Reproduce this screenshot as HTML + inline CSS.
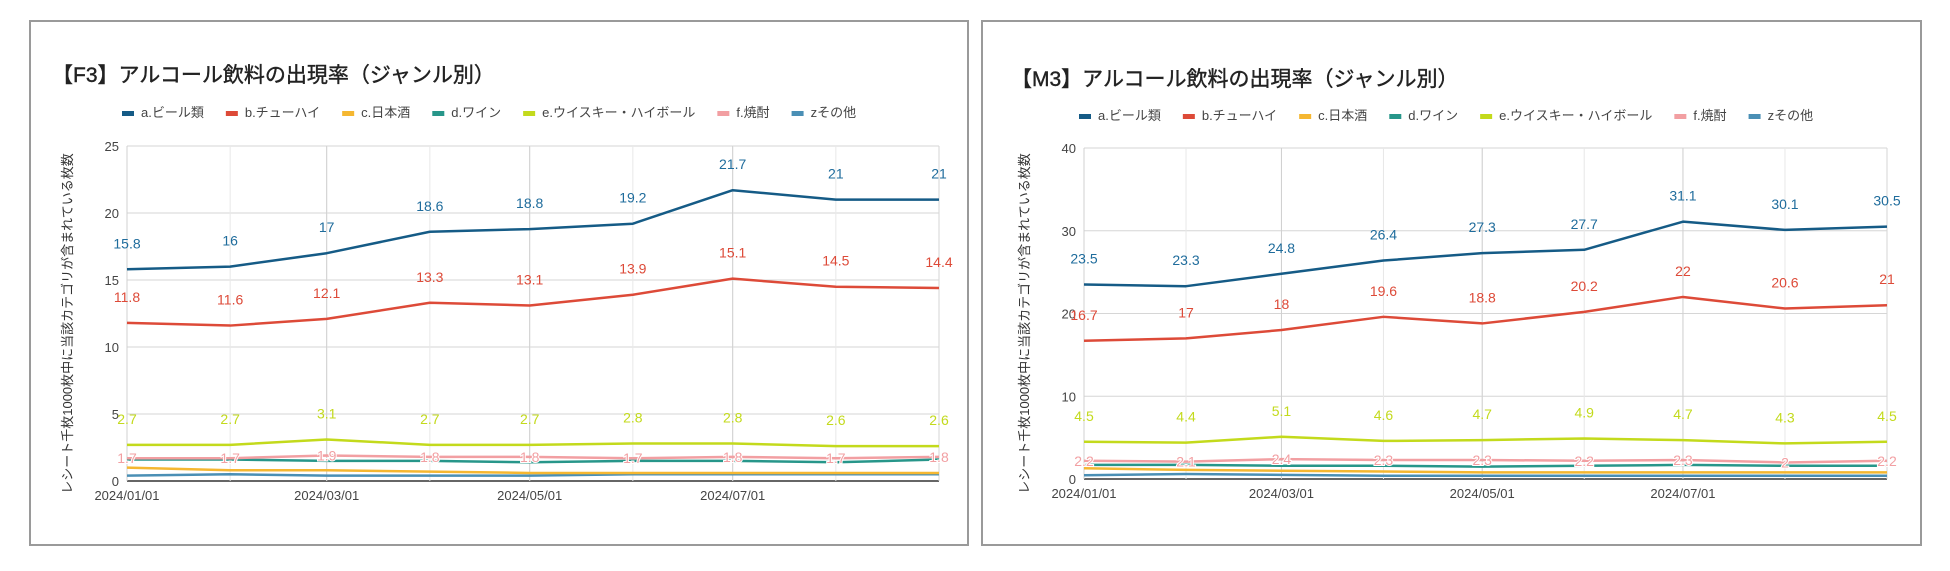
<!DOCTYPE html>
<html><head><meta charset="utf-8">
<style>
html,body{margin:0;padding:0;background:#fff;}
body{width:1950px;height:571px;overflow:hidden;position:relative;font-family:"Liberation Sans","Noto Sans CJK JP",sans-serif;}
.panel{position:absolute;border:2px solid #9a9a9a;box-sizing:border-box;background:#fff;}
svg text{font-family:"Liberation Sans","Noto Sans CJK JP",sans-serif;}
</style></head><body>
<div class="panel" style="left:29px;top:20px;width:940px;height:526px;"></div>
<div class="panel" style="left:981px;top:20px;width:941px;height:526px;"></div>
<svg id="svg" width="1950" height="571" style="position:absolute;left:0;top:0"></svg>
<script>
const seriesNames=["a.ビール類","b.チューハイ","c.日本酒","d.ワイン","e.ウイスキー・ハイボール","f.焼酎","zその他"];
const seriesColors=["#155b86","#dd4a38","#f5b731","#27968a","#c3da1c","#f29fa2","#4a8fb5"];
const labelColors=["#1f6c9c","#dd4a38",null,null,"#c3da1c","#f29fa2",null];
const dates=["2024-01-01","2024-02-01","2024-03-01","2024-04-01","2024-05-01","2024-06-01","2024-07-01","2024-08-01","2024-09-01"];
const xTickLabels=["2024/01/01","2024/03/01","2024/05/01","2024/07/01"];
const xTickDates=["2024-01-01","2024-03-01","2024-05-01","2024-07-01"];
// F3
const f3Beer=[15.8,16,17,18.6,18.8,19.2,21.7,21,21];
const f3Chuhai=[11.8,11.6,12.1,13.3,13.1,13.9,15.1,14.5,14.4];
const f3Sake=[1.0,0.8,0.8,0.7,0.6,0.6,0.6,0.6,0.6];
const f3Wine=[1.6,1.6,1.5,1.5,1.4,1.5,1.5,1.4,1.6];
const f3Whisky=[2.7,2.7,3.1,2.7,2.7,2.8,2.8,2.6,2.6];
const f3Shochu=[1.7,1.7,1.9,1.8,1.8,1.7,1.8,1.7,1.8];
const f3Other=[0.4,0.5,0.4,0.4,0.4,0.5,0.5,0.5,0.5];
const f3YTicks=[0,5,10,15,20,25];
// M3
const m3Beer=[23.5,23.3,24.8,26.4,27.3,27.7,31.1,30.1,30.5];
const m3Chuhai=[16.7,17,18,19.6,18.8,20.2,22,20.6,21];
const m3Sake=[1.3,1.1,1.0,0.9,0.8,0.8,0.8,0.8,0.8];
const m3Wine=[1.7,1.7,1.6,1.6,1.5,1.6,1.7,1.6,1.6];
const m3Whisky=[4.5,4.4,5.1,4.6,4.7,4.9,4.7,4.3,4.5];
const m3Shochu=[2.2,2.1,2.4,2.3,2.3,2.2,2.3,2,2.2];
const m3Other=[0.45,0.6,0.5,0.4,0.4,0.4,0.4,0.4,0.4];
const m3YTicks=[0,10,20,30,40];

const NS="http://www.w3.org/2000/svg";
const svg=document.getElementById('svg');
function mk(tag,attrs,parent){const e=document.createElementNS(NS,tag);for(const k in attrs)e.setAttribute(k,attrs[k]);(parent||svg).appendChild(e);return e;}
const day=d=>Date.parse(d)/86400000;

function chart(cfg){
  const g=mk('g',{});
  
  
  const d0=day(dates[0]),d1=day(dates[dates.length-1]);
  const X=d=>cfg.left+(day(d)-d0)/(d1-d0)*(cfg.right-cfg.left);
  const ymax=cfg.yTicks[cfg.yTicks.length-1];
  const Y=v=>cfg.bottom-v/ymax*(cfg.bottom-cfg.top);
  const t=mk('text',{x:cfg.titleX,y:cfg.titleY,'font-size':21,fill:'#222',stroke:'#222','stroke-width':0.4},g);
  t.textContent=cfg.title;
  
  
  let lx=cfg.legendX;
  seriesNames.forEach((n,i)=>{
    const lg=mk('g',{},g);
    
    
    mk('rect',{x:lx,y:cfg.legendY-4,width:12,height:5,fill:seriesColors[i]},lg);
    const tx=mk('text',{x:lx+19,y:cfg.legendY+2,'font-size':13,fill:'#444'},lg);
    tx.textContent=n;
    lx+=19+tx.getComputedTextLength()+cfg.legendGap;
  });
  cfg.yTicks.forEach(v=>{
    const l=mk('line',{x1:cfg.left,x2:cfg.right,y1:Y(v),y2:Y(v),stroke:v===0?'#333':'#d6d6d6','stroke-width':v===0?1.5:1},g);
    
    
    const tx=mk('text',{x:cfg.left-8,y:Y(v)+5,'font-size':13,fill:'#444','text-anchor':'end'},g);
    tx.textContent=v;
    
    
  });
  dates.forEach(d=>{mk('line',{x1:X(d),x2:X(d),y1:cfg.top,y2:cfg.bottom,stroke:'#e8e8e8','stroke-width':1},g);});
  xTickDates.forEach((d,i)=>{
    mk('line',{x1:X(d),x2:X(d),y1:cfg.top,y2:cfg.bottom,stroke:'#d0d0d0','stroke-width':1},g);
    const tx=mk('text',{x:X(d),y:cfg.bottom+19,'font-size':13,fill:'#444','text-anchor':'middle'},g);
    tx.textContent=xTickLabels[i];
    
    
  });
  mk('line',{x1:cfg.right,x2:cfg.right,y1:cfg.top,y2:cfg.bottom,stroke:'#d6d6d6'},g);
  const yt=mk('text',{x:0,y:0,'font-size':13,fill:'#333','text-anchor':'middle',transform:`translate(${cfg.yTitleX},${(cfg.top+cfg.bottom)/2+10}) rotate(-90)`},g);
  yt.textContent='レシート千枚1000枚中に当該カテゴリが含まれている枚数';
  
  
  const order=[6,2,3,5,4,1,0];
  order.forEach(i=>{
    const vals=cfg.series[i];
    const p=mk('polyline',{points:vals.map((v,j)=>X(dates[j])+','+Y(v)).join(' '),fill:'none',stroke:seriesColors[i],'stroke-width':2.5,'stroke-linejoin':'round'},g);
    
    
  });
  order.forEach(i=>{
    if(!labelColors[i])return;
    const vals=cfg.series[i];
    vals.forEach((v,j)=>{
      const onLine=i===5;
      const tx=mk('text',{x:X(dates[j]),y:onLine?Y(v)+5:Y(v)-21,'font-size':14,fill:labelColors[i],'text-anchor':'middle'},g);
      if(onLine){tx.setAttribute('stroke','#fff');tx.setAttribute('stroke-width','2');tx.setAttribute('paint-order','stroke');}
      tx.textContent=v;
      
      
    });
  });
}
chart({key:'f3',title:'【F3】アルコール飲料の出現率（ジャンル別）',titleX:52,titleY:82,legendX:122,legendY:115,legendGap:22,
  left:127,right:939,top:146,bottom:481,yTitleX:72,yTicks:f3YTicks,
  series:[f3Beer,f3Chuhai,f3Sake,f3Wine,f3Whisky,f3Shochu,f3Other]});
chart({key:'m3',title:'【M3】アルコール飲料の出現率（ジャンル別）',titleX:1011,titleY:86,legendX:1079,legendY:118,legendGap:22,
  left:1084,right:1887,top:148,bottom:479,yTitleX:1029,yTicks:m3YTicks,
  series:[m3Beer,m3Chuhai,m3Sake,m3Wine,m3Whisky,m3Shochu,m3Other]});
</script>
</body></html>
